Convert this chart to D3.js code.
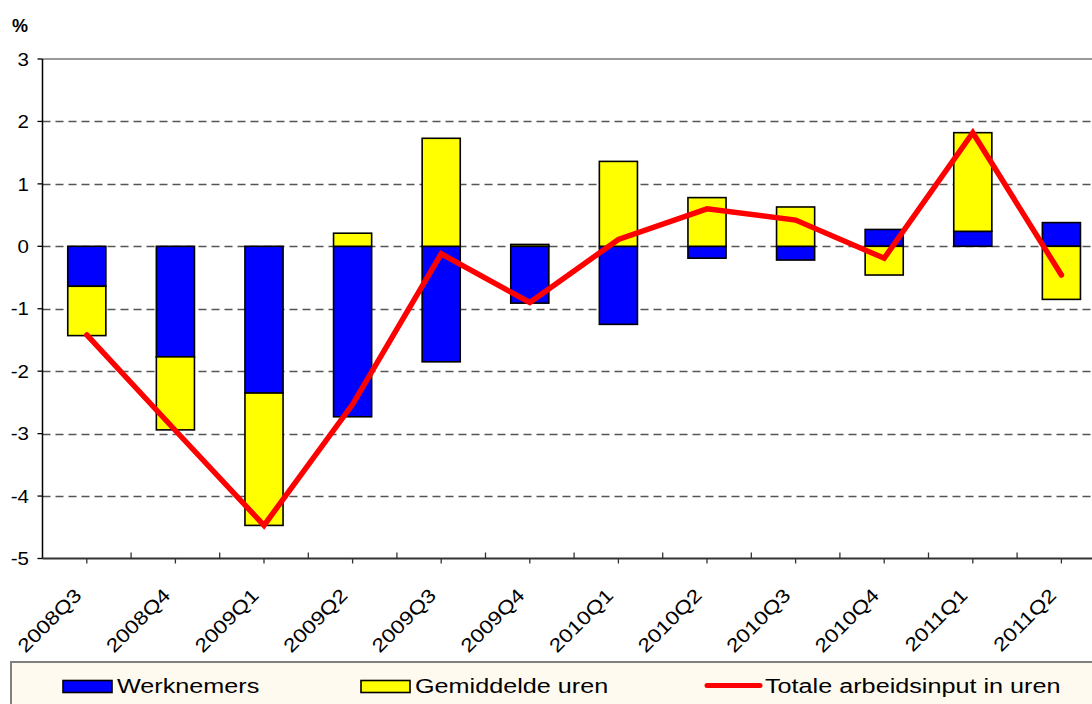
<!DOCTYPE html>
<html lang='nl'>
<head>
	<meta charset='utf-8'>
	<script type='text/javascript' src='https://d3js.org/d3.v7.min.js'></script>
	<style type='text/css'>
		body{
			margin:0;
			background:#fff;
		}
		svg text{
			font-family:Arial, 'Liberation Sans', sans-serif;
			fill:#000;
		}
		.y-label{ font-size:19px; }
		.x-label{ font-size:19px; }
		.legend-text{ font-size:21px; }
	</style>
</head>
<body>
	<div id='chart'></div>

	<script type='text/javascript'>
		// kwartalen
		var categories = ['2008Q3','2008Q4','2009Q1','2009Q2','2009Q3','2009Q4',
		                  '2010Q1','2010Q2','2010Q3','2010Q4','2011Q1','2011Q2'];

		// bijdrage werknemers (%)
		var werknemers = [-0.64, -1.77, -2.35, -2.73, -1.85, -0.91, -1.25, -0.19, -0.22, 0.27, 0.24, 0.38];

		// bijdrage gemiddelde uren (%)
		var gemiddeldeUren = [-0.79, -1.17, -2.12, 0.21, 1.73, 0.03, 1.36, 0.78, 0.63, -0.46, 1.58, -0.85];

		// totale arbeidsinput in uren (%)
		var totaal = [-1.42, -2.95, -4.47, -2.53, -0.12, -0.90, 0.11, 0.60, 0.42, -0.19, 1.82, -0.46];

		var yTicks = [3, 2, 1, 0, -1, -2, -3, -4, -5];

		var seriesNames = ['Werknemers', 'Gemiddelde uren', 'Totale arbeidsinput in uren'];
		var seriesColors = ['#0000ff', '#ffff00', '#ff0000'];

		var width = 1092,
			height = 704;

		// the original text is a bit stretched sideways
		var stretch = 1.2;

		var svg = d3.select('#chart')
			.append('svg')
			.attr('width', width)
			.attr('height', height);

		// plot area (right part falls outside the picture, as in the original)
		var plotLeft = 42.5, plotTop = 59, plotBottom = 558.5;
		var step = 88.6;

		var x = d3.scaleBand()
			.domain(categories)
			.range([plotLeft, plotLeft + step * categories.length])
			.paddingInner(0.57)
			.paddingOuter(0.285);

		var y = d3.scaleLinear()
			.domain([-5, 3])
			.range([plotBottom, plotTop]);

		var xCenter = function(c){ return x(c) + x.bandwidth() / 2; };

		//gridlines
		svg.append('g')
			.selectAll('line')
			.data(yTicks.filter(function(d){ return d > -5 && d < 3; }))
			.enter()
			.append('line')
			.attr('x1', plotLeft)
			.attr('x2', width)
			.attr('y1', function(d){ return Math.round(y(d)) + 0.5; })
			.attr('y2', function(d){ return Math.round(y(d)) + 0.5; })
			.style('stroke', '#555')
			.style('stroke-width', 1.3)
			.style('stroke-dasharray', '8,5');

		// top border of plot area
		svg.append('line')
			.attr('x1', plotLeft).attr('x2', width)
			.attr('y1', y(3)).attr('y2', y(3))
			.style('stroke', '#999')
			.style('stroke-width', 2);

		//stacked bars
		var table = categories.map(function(c, i){
			return {cat: c, w: werknemers[i], g: gemiddeldeUren[i]};
		});

		var stack = d3.stack()
			.keys(['w', 'g'])
			.offset(d3.stackOffsetDiverging);

		var layers = stack(table);

		svg.append('g')
			.selectAll('g')
			.data(layers)
			.enter()
			.append('g')
			.style('fill', function(d, i){ return seriesColors[i]; })
			.selectAll('rect')
			.data(function(d){ return d; })
			.enter()
			.append('rect')
			.attr('x', function(d){ return x(d.data.cat); })
			.attr('width', x.bandwidth())
			.attr('y', function(d){ return y(Math.max(d[0], d[1])); })
			.attr('height', function(d){ return Math.abs(y(d[0]) - y(d[1])); })
			.style('stroke', '#000')
			.style('stroke-width', 1.6);

		//y axis
		var yAxis = svg.append('g');
		yAxis.append('line')
			.attr('x1', plotLeft).attr('x2', plotLeft)
			.attr('y1', plotTop).attr('y2', plotBottom)
			.style('stroke', '#000')
			.style('stroke-width', 1.5);
		yAxis.selectAll('.y-tick')
			.data(yTicks)
			.enter()
			.append('line')
			.attr('class', 'y-tick')
			.attr('x1', plotLeft - 5).attr('x2', plotLeft)
			.attr('y1', function(d){ return y(d); })
			.attr('y2', function(d){ return y(d); })
			.style('stroke', '#000')
			.style('stroke-width', 1.3);
		yAxis.selectAll('.y-label')
			.data(yTicks)
			.enter()
			.append('text')
			.attr('class', 'y-label')
			.attr('text-anchor', 'end')
			.attr('dy', '0.35em')
			.attr('transform', function(d){ return 'translate(29,' + y(d) + ') scale(1.08,1)'; })
			.text(function(d){ return d; });

		svg.append('text')
			.attr('x', 12)
			.attr('y', 32)
			.style('font-size', '18px')
			.style('font-weight', 'bold')
			.text('%');

		//x axis
		var xAxis = svg.append('g');
		xAxis.append('line')
			.attr('x1', plotLeft).attr('x2', width)
			.attr('y1', plotBottom).attr('y2', plotBottom)
			.style('stroke', '#333')
			.style('stroke-width', 2);
		// ticks at the centres point down
		xAxis.selectAll('.x-tick')
			.data(categories)
			.enter()
			.append('line')
			.attr('class', 'x-tick')
			.attr('x1', function(d){ return xCenter(d); })
			.attr('x2', function(d){ return xCenter(d); })
			.attr('y1', plotBottom).attr('y2', plotBottom + 5)
			.style('stroke', '#333')
			.style('stroke-width', 1.3);
		// ticks between categories point up
		xAxis.selectAll('.x-sep')
			.data(categories.slice(1))
			.enter()
			.append('line')
			.attr('class', 'x-sep')
			.attr('x1', function(d){ return x(d) - x.step() * x.paddingInner() / 2; })
			.attr('x2', function(d){ return x(d) - x.step() * x.paddingInner() / 2; })
			.attr('y1', plotBottom).attr('y2', plotBottom - 6)
			.style('stroke', '#333')
			.style('stroke-width', 1.3);
		xAxis.selectAll('.x-label')
			.data(categories)
			.enter()
			.append('text')
			.attr('class', 'x-label')
			.attr('text-anchor', 'end')
			.attr('transform', function(d){
				return 'translate(' + (xCenter(d) - 4) + ',' + (plotBottom + 38) + ') rotate(-45) scale(' + stretch + ',1)';
			})
			.text(function(d){ return d; });

		//line
		var line = d3.line()
			.x(function(d, i){ return xCenter(categories[i]); })
			.y(function(d){ return y(d); });

		svg.append('path')
			.datum(totaal)
			.attr('d', line)
			.style('fill', 'none')
			.style('stroke', seriesColors[2])
			.style('stroke-width', 5.5)
			.style('stroke-linecap', 'round')
			.style('stroke-linejoin', 'miter');

		//legend
		var legend = svg.append('g');
		legend.append('rect')
			.attr('x', 11)
			.attr('y', 662)
			.attr('width', width + 20)
			.attr('height', 60)
			.style('fill', '#fffaf0')
			.style('stroke', '#808080')
			.style('stroke-width', 2);

		var legendX = [63, 361, 705];
		seriesNames.forEach(function(name, i){
			var g = legend.append('g').attr('transform', 'translate(' + legendX[i] + ',0)');
			if(i < 2){
				g.append('rect')
					.attr('x', 0).attr('y', 680.5)
					.attr('width', 49).attr('height', 12)
					.style('fill', seriesColors[i])
					.style('stroke', '#000')
					.style('stroke-width', 1.6);
			}else{
				g.append('line')
					.attr('x1', 2).attr('x2', 55)
					.attr('y1', 685.5).attr('y2', 685.5)
					.style('stroke', seriesColors[i])
					.style('stroke-width', 5)
					.style('stroke-linecap', 'round');
			}
			g.append('text')
				.attr('class', 'legend-text')
				.attr('transform', 'translate(' + (i < 2 ? 54 : 60) + ',693) scale(' + stretch + ',1)')
				.text(name);
		});
	</script>
</body>
</html>
